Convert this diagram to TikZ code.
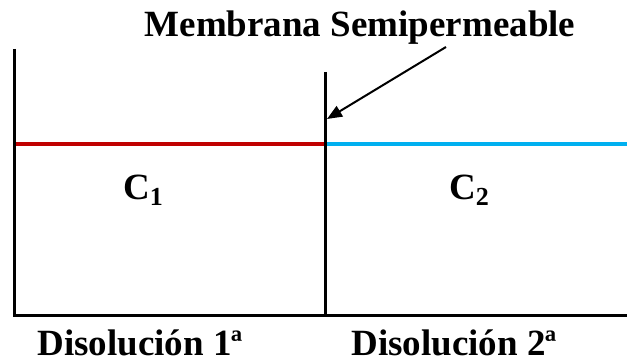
\documentclass[tikz,border=0pt]{standalone}
\usepackage{fontspec}
\setmainfont{Liberation Serif}
\usetikzlibrary{arrows.meta}
\definecolor{rojo}{HTML}{C00000}
\definecolor{celeste}{HTML}{00B0F0}
\newcommand{\csub}[1]{\raisebox{-6pt}{\fontsize{26}{26}\selectfont #1}}
\begin{document}
\begin{tikzpicture}[x=1pt, y=1pt, font=\fontsize{37}{40}\selectfont\bfseries, line join=miter, >={Triangle[length=15pt,width=12pt]}]
			\useasboundingbox (0,0) rectangle (627,363);
			\coordinate (A) at (14,314);
			\coordinate (B) at (14,47);
			\coordinate (C) at (627,47);
			\coordinate (M) at (325,291);
			\coordinate (N) at (325,47);
			\coordinate (P) at (325,219);
			\coordinate (L) at (14,219);
			\coordinate (R) at (627,219);
			\coordinate (T) at (446,316);
			\coordinate (H) at (327,244);
			
			% niveles de las disoluciones
			\draw[rojo, line width=3.5pt] (L) -- (P);
			\draw[celeste, line width=3.5pt] (P) -- (R);
			
			% recipiente y membrana
			\draw[line width=3pt] (A) -- (B) -- (C);
			\draw[line width=3pt] (M) -- (N);
			\draw[line width=2pt, ->] (T) -- (H);
			
			\node[anchor=base, inner sep=0] (memb) at (360,326) {Membrana Semipermeable};
			\node[anchor=base west, inner sep=0] (c1) at (123,163) {C\csub{1}};
			\node[anchor=base west, inner sep=0] (c2) at (449,163) {C\csub{2}};
			\node[anchor=base, inner sep=0] (dis1) at (140,7) {Disolución 1ª};
			\node[anchor=base, inner sep=0] (dis2) at (454,7) {Disolución 2ª};
	\end{tikzpicture}
\end{document}
